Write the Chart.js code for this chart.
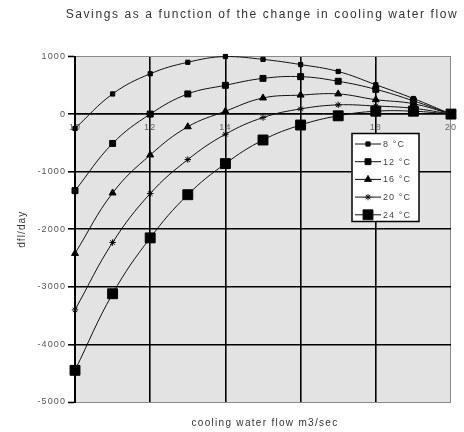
<!DOCTYPE html>
<html>
<head>
<meta charset="utf-8">
<script src="https://cdn.jsdelivr.net/npm/chart.js@4.4.1/dist/chart.umd.min.js"></script>
<style>
  html, body { margin: 0; padding: 0; background: #fff; }
  #wrap { width: 464px; height: 432px; }
</style>
</head>
<body>
<div id="wrap"><canvas id="savingsChart" width="464" height="432"></canvas></div>
<script>
// cooling water flow (m3/sec) on the x axis
const flows = [10, 11, 12, 13, 14, 15, 16, 17, 18, 19, 20];

// savings in dfl/day, one array per cooling water temperature
const seriesLabels = ['8 °C', '12 °C', '16 °C', '20 °C', '24 °C'];
const t8  = [-250, 350, 700, 900, 1000, 950, 860, 740, 510, 270, 0];
const t12 = [-1330, -510, 0, 350, 500, 620, 650, 570, 430, 230, 0];
const t16 = [-2420, -1370, -710, -220, 50, 280, 330, 350, 250, 180, 0];
const t20 = [-3400, -2230, -1380, -790, -350, -60, 90, 160, 140, 100, 0];
const t24 = [-4450, -3120, -2150, -1400, -860, -450, -190, -30, 50, 50, 0];

const chartTitle = 'Savings as a function of the change in cooling water flow';
const xTitle = 'cooling water flow m3/sec';
const yTitle = 'dfl/day';

const markerStyles = ['rect', 'rect', 'triangle', 'star', 'rect'];
const markerSizes = [3, 4.2, 4, 3.2, 7];

const allSeries = [t8, t12, t16, t20, t24];

function toPoints(values) {
    return flows.map((x, i) => ({ x: x, y: values[i] }));
}

// grey plot background + letter spacing for the old scanned look
const plotBackground = {
    id: 'plotBackground',
    beforeDraw(chart) {
        const { ctx, chartArea: a } = chart;
        ctx.save();
        ctx.fillStyle = '#e3e3e3';
        ctx.fillRect(a.left, a.top, a.right - a.left, a.bottom - a.top);
        ctx.restore();
        ctx.letterSpacing = '1.1px';
    }
};

// title, x axis title and the boxed legend
const chartTexts = {
    id: 'chartTexts',
    afterDraw(chart) {
        const { ctx, chartArea: a } = chart;
        ctx.save();
        ctx.fillStyle = '#333';
        ctx.textAlign = 'center';
        ctx.textBaseline = 'middle';

        ctx.font = '12px "Liberation Sans", Arial, sans-serif';
        ctx.letterSpacing = '1.6px';
        ctx.fillText(chartTitle, 262, 15);

        ctx.font = '10px "Liberation Sans", Arial, sans-serif';
        ctx.letterSpacing = '1.3px';
        ctx.fillText(xTitle, 265, 423);

        // legend box
        const lx = a.left + 277, ly = a.top + 77;
        const lw = 67, lh = 88;
        ctx.fillStyle = '#fff';
        ctx.fillRect(lx, ly, lw, lh);
        ctx.strokeStyle = '#000';
        ctx.lineWidth = 1.5;
        ctx.strokeRect(lx, ly, lw, lh);

        ctx.font = '9px "Liberation Sans", Arial, sans-serif';
        ctx.letterSpacing = '1.1px';
        ctx.textAlign = 'left';
        chart.data.datasets.forEach((ds, i) => {
            const y = ly + 10.5 + i * 17.7;
            ctx.strokeStyle = '#111';
            ctx.lineWidth = 1;
            ctx.beginPath();
            ctx.moveTo(lx + 3, y);
            ctx.lineTo(lx + 29, y);
            ctx.stroke();
            ctx.fillStyle = '#000';
            Chart.helpers.drawPoint(ctx, {
                pointStyle: ds.pointStyle,
                radius: ds.pointRadius,
                rotation: 0,
                borderWidth: 1
            }, lx + 16, y);
            ctx.fillStyle = '#444';
            ctx.fillText(ds.label, lx + 31, y + 0.5);
        });
        ctx.restore();
    }
};

const gridColor = (ctx) => {
    const v = ctx.tick ? ctx.tick.value : null;
    return (v === 1000 || v === -5000 || v === 20) ? '#8a8a8a' : '#000';
};
const gridWidth = (ctx) => {
    const v = ctx.tick ? ctx.tick.value : null;
    return (v === 1000 || v === -5000 || v === 20) ? 1 : 1.6;
};

new Chart(document.getElementById('savingsChart'), {
    type: 'line',
    data: {
        datasets: allSeries.map((values, i) => ({
            label: seriesLabels[i],
            data: toPoints(values),
            borderColor: '#111',
            backgroundColor: '#000',
            borderWidth: 1,
            pointStyle: markerStyles[i],
            pointRadius: markerSizes[i],
            pointBorderWidth: 1,
            pointBackgroundColor: '#000',
            pointBorderColor: '#000',
            tension: 0.4,
            clip: false
        }))
    },
    options: {
        responsive: false,
        animation: false,
        layout: {
            padding: { top: 56.5, bottom: 30, left: 0, right: 9 }
        },
        plugins: {
            legend: { display: false },
            title: { display: false },
            tooltip: { enabled: false }
        },
        scales: {
            x: {
                type: 'linear',
                position: { y: 0 },
                min: 10,
                max: 20,
                ticks: {
                    stepSize: 2,
                    padding: 8,
                    color: '#666',
                    font: { family: '"Liberation Sans", Arial, sans-serif', size: 9 }
                },
                grid: {
                    color: gridColor,
                    lineWidth: gridWidth,
                    drawTicks: false
                },
                border: { display: true, color: '#000', width: 1.6 }
            },
            y: {
                min: -5000,
                max: 1000,
                afterFit(scale) { scale.width = 75; },
                ticks: {
                    stepSize: 1000,
                    padding: 2,
                    color: '#555',
                    font: { family: '"Liberation Sans", Arial, sans-serif', size: 9 },
                    callback: (v) => String(v)
                },
                grid: {
                    color: gridColor,
                    lineWidth: gridWidth,
                    tickLength: 7,
                    tickColor: '#000',
                    tickWidth: 1.6
                },
                border: { display: true, color: '#000', width: 2 },
                title: {
                    display: true,
                    text: yTitle,
                    color: '#333',
                    padding: { top: 16, bottom: 0 },
                    font: { family: '"Liberation Sans", Arial, sans-serif', size: 10 }
                }
            }
        }
    },
    plugins: [plotBackground, chartTexts]
});
</script>
</body>
</html>
